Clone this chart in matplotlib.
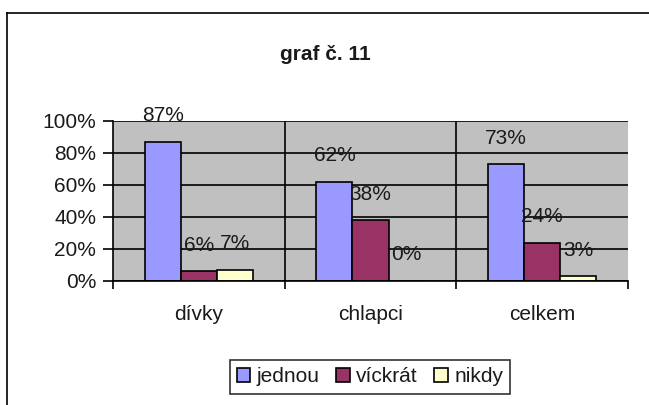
import matplotlib
matplotlib.use("Agg")
import matplotlib.pyplot as plt
import numpy as np
from matplotlib.lines import Line2D

plt.rcParams['font.family'] = ['Liberation Sans', 'DejaVu Sans']

categories = ["dívky", "chlapci", "celkem"]
series_names = ["jednou", "víckrát", "nikdy"]
jednou = [87, 62, 73]
vickrat = [6, 38, 24]
nikdy = [7, 0, 3]
series_values = [jednou, vickrat, nikdy]
colors = ["#9999FF", "#993366", "#FFFFCC"]
y_ticks = [0, 20, 40, 60, 80, 100]
title = "graf č. 11"

W, H = 649, 405
fig = plt.figure(figsize=(W / 100, H / 100), dpi=100)
fig.patch.set_facecolor("white")

# outer chart frame (top and left edges)
fig.add_artist(Line2D([7 / W, 1.0], [1 - 13 / H, 1 - 13 / H], color="black", lw=1.2))
fig.add_artist(Line2D([7 / W, 7 / W], [0.0, 1 - 13 / H], color="black", lw=1.2))

left, right, top, bottom = 113, 628, 121, 281
ax = fig.add_axes([left / W, 1 - bottom / H, (right - left) / W, (bottom - top) / H])
ax.set_facecolor("#C0C0C0")

x = np.arange(len(categories))
bw = 0.21
offsets = [-bw, 0, bw]
fs = 15
txt_col = "#1a1a1a"

for vals, name, col, off in zip(series_values, series_names, colors, offsets):
    ax.bar(x + off, vals, width=bw, color=col, edgecolor="black",
           linewidth=1.2, label=name, zorder=3)
    for xi, v in zip(x + off, vals):
        ax.annotate(f"{v}%", (xi, v), xytext=(0, 26), textcoords="offset pixels",
                    ha="center", va="center", fontsize=fs, color=txt_col,
                    zorder=4, annotation_clip=False)

ax.set_xlim(-0.5, len(categories) - 0.5)
ax.set_ylim(0, 100)
ax.set_yticks(y_ticks)
ax.set_yticklabels([f"{t}%" for t in y_ticks], fontsize=fs, color=txt_col)
ax.yaxis.grid(True, color="black", lw=1.2, zorder=1)
for b in [0.5, 1.5]:
    ax.axvline(b, color="black", lw=1.2, zorder=1)

ax.set_xticks(x)
ax.set_xticklabels(categories, fontsize=fs, color=txt_col)
ax.tick_params(axis="x", length=0, pad=17)
ax.set_xticks([-0.5, 0.5, 1.5, 2.5], minor=True)
ax.tick_params(axis="x", which="minor", length=6, width=1.2, direction="out")
ax.tick_params(axis="y", length=7, width=1.2, direction="out", pad=5)

for s in ["top", "right"]:
    ax.spines[s].set_visible(False)
for s in ["left", "bottom"]:
    ax.spines[s].set_linewidth(1.2)
    ax.spines[s].set_zorder(5)

fig.text(325 / W, 1 - 55 / H, title, ha="center", va="center",
         fontsize=15, fontweight="bold", color=txt_col)

leg = fig.legend(loc="center", bbox_to_anchor=(370 / W, 1 - 377 / H), ncol=3,
                 fontsize=fs, frameon=True, fancybox=False, edgecolor="black",
                 handlelength=0.65, handleheight=0.65, handletextpad=0.3,
                 columnspacing=0.8, borderpad=0.35)
leg.get_frame().set_linewidth(1.2)
for t in leg.get_texts():
    t.set_color(txt_col)

fig.savefig("out.png", dpi=100)
